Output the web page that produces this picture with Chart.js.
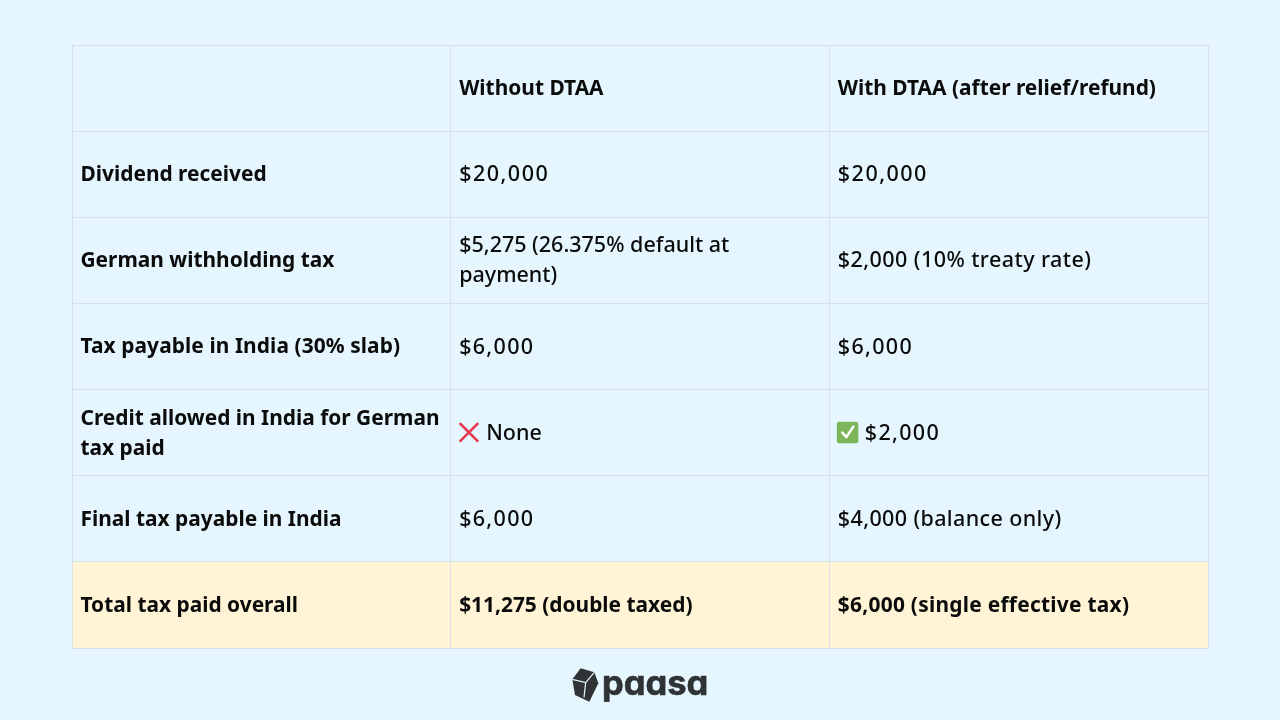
<!DOCTYPE html>
<html><head><meta charset="utf-8">
<style>
html,body{margin:0;padding:0;background:#e5f6ff;width:1280px;height:720px;overflow:hidden}
#wrap{position:absolute;left:0;top:0;width:1280px;height:720px}
#brand{position:absolute;left:602px;top:661px;font:700 34.5px Inter,sans-serif;font-feature-settings:"cv11" 1;color:#2f3335;letter-spacing:0;line-height:44px;-webkit-text-stroke:.6px #2f3335}
</style>
<script src="https://cdn.jsdelivr.net/npm/chart.js@4"></script>
</head><body>
<div id="wrap"><canvas id="c" width="1280" height="720"></canvas></div>
<div id="brand">paasa</div>
<script>
const columns = [0, 1, 2, 3];
const rowKeys = ["header","dividend","german","india","credit","final","total"];
const rowNames = ["", "Dividend received", "German withholding tax", "Tax payable in India (30% slab)", "Credit allowed in India for German\ntax paid", "Final tax payable in India", "Total tax paid overall"];
const withoutDTAA = ["Without DTAA", "$20,000", "$5,275 (26.375% default at\npayment)", "$6,000", "None", "$6,000", "$11,275 (double taxed)"];
const withDTAA = ["With DTAA (after relief/refund)", "$20,000", "$2,000 (10% treaty rate)", "$6,000", "$2,000", "$4,000 (balance only)", "$6,000 (single effective tax)"];
const highlightSpan = [0, 3];
const highlightRow = "total";
const boldRows = ["header", "total"];
const rowsWithIcons = ["credit"];

const BG = "#e5f6ff", YELLOW = "#fff5d6", LINE = "#d9dfe5", INK = "#0b0b0b", LOGO = "#2f3335";
const FONT = '"Noto Sans", sans-serif';
const PAD = 8.5, REG = 21.5, BOLD = 20.9, LEAD = 30, ICON_GAP = 27, ZERO_EXTRA = 2.6, TEXT_DY = 1;

function tableText(chart) {
  const { ctx, scales: { x, y } } = chart;
  const cols = [rowNames, withoutDTAA, withDTAA];
  ctx.save();
  ctx.textBaseline = "middle";
  ctx.textAlign = "left";
  ctx.fillStyle = INK;
  rowKeys.forEach((key, r) => {
    const cy = y.getPixelForValue(r);
    cols.forEach((col, c) => {
      const left = x.getPixelForValue(c) + PAD;
      const bold = c === 0 || boldRows.includes(key);
      const icon = c > 0 && rowsWithIcons.includes(key);
      ctx.font = bold ? "700 " + BOLD + "px " + FONT : "500 " + REG + "px " + FONT;
      const lines = col[r].split("\n");
      lines.forEach((t, i) => {
        // the reference face has a wider zero: spread that extra width over the string
        const zeros = (t.match(/0/g) || []).length;
        ctx.letterSpacing = (t.length ? zeros * ZERO_EXTRA / t.length : 0).toFixed(3) + "px";
        ctx.fillStyle = INK;
        ctx.fillText(t, left + (icon ? ICON_GAP : 0), cy + TEXT_DY + (i - (lines.length - 1) / 2) * LEAD);
      });
      ctx.letterSpacing = "0px";
      if (icon) (c === 1 ? drawCross : drawCheck)(ctx, left, cy);
    });
  });
  ctx.restore();
}
function drawCross(ctx, l, cy) {
  ctx.save();
  ctx.strokeStyle = "#e5384f"; ctx.lineWidth = 2.6;
  ctx.beginPath();
  ctx.moveTo(l + .5, cy - 9.5); ctx.lineTo(l + 19, cy + 9);
  ctx.moveTo(l + 19, cy - 9.5); ctx.lineTo(l + .5, cy + 9);
  ctx.stroke(); ctx.restore();
}
function drawCheck(ctx, l, cy) {
  ctx.save();
  ctx.fillStyle = "#7cb55a";
  ctx.beginPath(); ctx.roundRect(l - 1, cy - 11, 21.5, 21.5, 2.5); ctx.fill();
  ctx.strokeStyle = "#fff"; ctx.lineWidth = 2.6; ctx.lineCap = "round"; ctx.lineJoin = "round";
  ctx.beginPath(); ctx.moveTo(l + 4.5, cy); ctx.lineTo(l + 8.5, cy + 4.5); ctx.lineTo(l + 15.5, cy - 6); ctx.stroke();
  ctx.restore();
}
function drawLogo(ctx) {
  const p = (zx, zy) => [540 + zx / 3, 640 + zy / 3];
  const outer = [[122,85],[163,97],[175,130],[148,185],[105,165],[97,118]];
  ctx.save();
  ctx.fillStyle = LOGO;
  ctx.beginPath();
  outer.forEach((q, i) => { const [a, b] = p(q[0], q[1]); i ? ctx.lineTo(a, b) : ctx.moveTo(a, b); });
  ctx.closePath(); ctx.fill();
  ctx.strokeStyle = BG; ctx.lineWidth = 1.2;
  ctx.beginPath();
  ctx.moveTo(...p(97,118)); ctx.lineTo(...p(137,128)); ctx.lineTo(...p(163,97));
  ctx.moveTo(...p(137,128)); ctx.lineTo(...p(132,172));
  ctx.stroke();
  ctx.restore();
}

new Chart(document.getElementById("c"), {
  type: "bar",
  data: {
    labels: rowKeys,
    datasets: [{
      data: rowKeys.map(k => k === highlightRow ? highlightSpan : null),
      backgroundColor: YELLOW, borderWidth: 0,
      barPercentage: 1, categoryPercentage: 1
    }]
  },
  options: {
    indexAxis: "y", responsive: false, animation: false,
    layout: { padding: { left: 72, right: 72, top: 45, bottom: 72 } },
    plugins: { legend: { display: false }, tooltip: { enabled: false }, title: { display: false } },
    scales: {
      x: { type: "linear", min: columns[0], max: columns[3],
           ticks: { display: false, stepSize: 1 },
           grid: { color: LINE, lineWidth: 1, drawTicks: false, z: 1 },
           border: { display: false } },
      y: { type: "category", ticks: { display: false },
           grid: { color: LINE, lineWidth: 1, drawTicks: false, z: 1 },
           border: { display: false } }
    }
  },
  plugins: [{ id: "tableText", afterDraw(chart) { tableText(chart); drawLogo(chart.ctx); } }]
});
</script>
</body></html>
